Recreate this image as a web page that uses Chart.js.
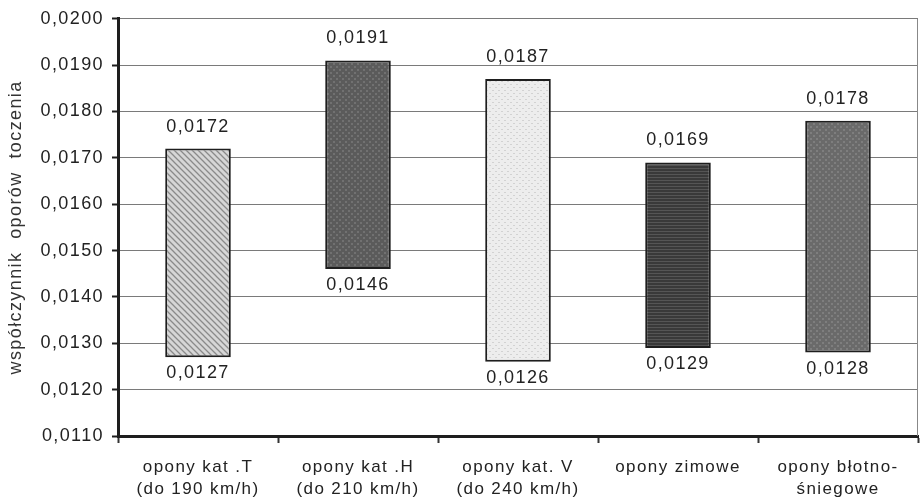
<!DOCTYPE html>
<html>
<head>
<meta charset="utf-8">
<script src="https://cdn.jsdelivr.net/npm/chart.js@4"></script>
<style>
html,body{margin:0;padding:0;background:#fff;}
#wrap{width:920px;height:503px;}
</style>
</head>
<body>
<div id="wrap"><canvas id="c" width="920" height="503"></canvas></div>
<script>
const categories = [
  ["opony kat .T", "(do 190 km/h)"],
  ["opony kat .H", "(do 210 km/h)"],
  ["opony kat. V", "(do 240 km/h)"],
  ["opony zimowe"],
  ["opony błotno-", "śniegowe"]
];
const lowValues  = [0.0127, 0.0146, 0.0126, 0.0129, 0.0128];
const highValues = [0.0172, 0.0191, 0.0187, 0.0169, 0.0178];
const yMin = 0.0110, yMax = 0.0200, yStep = 0.0010;
const yTitle = "współczynnik  oporów  toczenia";

function fmt(v){ return v.toFixed(4).replace('.', ','); }

function makePattern(kind){
  const c = document.createElement('canvas');
  const s = 6; c.width = s; c.height = s;
  const g = c.getContext('2d');
  if (kind === 'diag'){
    g.fillStyle = '#d6d6d6'; g.fillRect(0,0,s,s);
    g.strokeStyle = '#8a8a8a'; g.lineWidth = 1.3;
    g.beginPath();
    g.moveTo(-1,-1); g.lineTo(s+1,s+1);
    g.moveTo(-1,s-1); g.lineTo(1,s+1);
    g.moveTo(s-1,-1); g.lineTo(s+1,1);
    g.stroke();
  } else if (kind === 'dark'){
    g.fillStyle = '#5b5b5b'; g.fillRect(0,0,s,s);
    g.fillStyle = '#717171'; g.fillRect(0,0,2,2); g.fillRect(3,3,2,2);
  } else if (kind === 'light'){
    g.fillStyle = '#ededed'; g.fillRect(0,0,s,s);
    g.fillStyle = '#d2d2d2'; g.fillRect(0,0,2,1); g.fillRect(3,3,2,1);
  } else if (kind === 'hlines'){
    g.fillStyle = '#393939'; g.fillRect(0,0,s,s);
    g.fillStyle = '#555555'; g.fillRect(0,0,s,1); g.fillRect(0,3,s,1);
  } else {
    g.fillStyle = '#6a6a6a'; g.fillRect(0,0,s,s);
    g.fillStyle = '#7e7e7e'; g.fillRect(0,0,2,2); g.fillRect(3,3,2,2);
  }
  return g.createPattern(c, 'repeat');
}
const fills = ['diag','dark','light','hlines','mid'].map(makePattern);

const LS = '1.4px';
const FONT = '"Liberation Sans", Arial, sans-serif';
const spacingPlugin = {
  id: 'spacing',
  beforeUpdate(chart){ chart.ctx.letterSpacing = LS; },
  beforeDraw(chart){ chart.ctx.letterSpacing = LS; }
};

const labelPlugin = {
  id: 'vlabels',
  afterDatasetsDraw(chart){
    const ctx = chart.ctx;
    const meta = chart.getDatasetMeta(0);
    ctx.save();
    ctx.letterSpacing = LS;
    ctx.font = '18px ' + FONT;
    ctx.fillStyle = '#222';
    ctx.textAlign = 'center';
    ctx.textBaseline = 'middle';
    meta.data.forEach((el, i) => {
      const top = Math.min(el.y, el.base), bot = Math.max(el.y, el.base);
      ctx.fillText(fmt(highValues[i]), el.x, top - 22);
      ctx.fillText(fmt(lowValues[i]), el.x, bot + 16);
    });
    const a = chart.chartArea;
    ctx.strokeStyle = '#888'; ctx.lineWidth = 1;
    ctx.beginPath(); ctx.moveTo(a.right - 0.5, a.top); ctx.lineTo(a.right - 0.5, a.bottom); ctx.stroke();
    ctx.restore();
  }
};

new Chart(document.getElementById('c'), {
  type: 'bar',
  data: {
    labels: categories,
    datasets: [{
      data: categories.map((_, i) => [lowValues[i], highValues[i]]),
      backgroundColor: fills,
      borderColor: '#1e1e1e',
      borderWidth: 2,
      borderSkipped: false,
      barPercentage: 0.41,
      categoryPercentage: 1.0
    }]
  },
  options: {
    responsive: false,
    animation: false,
    devicePixelRatio: 1,
    layout: { padding: { top: 15, right: 2, left: 0, bottom: 0 } },
    plugins: { legend: { display: false }, tooltip: { enabled: false } },
    scales: {
      x: {
        afterFit(s){ s.height = 67; },
        grid: { offset: true, drawOnChartArea: false, tickLength: 7, tickColor: '#333', tickWidth: 2 },
        border: { color: '#1e1e1e', width: 3 },
        ticks: {
          maxRotation: 0, autoSkip: false, padding: 13,
          color: '#222',
          font: { family: FONT, size: 17, lineHeight: 1.3 }
        }
      },
      y: {
        min: yMin, max: yMax,
        afterFit(s){ s.width = 118; },
        grid: { color: '#7a7a7a', lineWidth: 1, tickLength: 6, tickColor: '#1e1e1e', tickWidth: 2 },
        border: { color: '#1e1e1e', width: 3 },
        ticks: {
          stepSize: yStep, padding: 8, color: '#222',
          font: { family: FONT, size: 18 },
          callback: v => fmt(v)
        },
        title: {
          display: true, text: yTitle, color: '#333',
          font: { family: FONT, size: 18 },
          padding: { top: 5, bottom: 0 }
        }
      }
    }
  },
  plugins: [spacingPlugin, labelPlugin]
});
</script>
</body>
</html>
